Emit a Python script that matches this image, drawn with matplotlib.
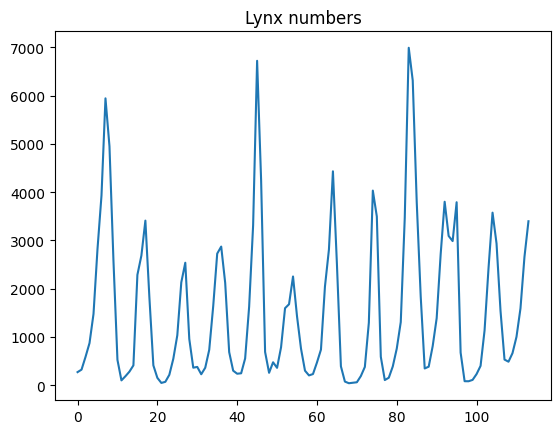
import matplotlib
matplotlib.use('Agg')
import matplotlib.pyplot as plt

# annual lynx trappings 1821-1934
lynx = [269, 321, 585, 871, 1475, 2821, 3928, 5943, 4950, 2577,
        523, 98, 184, 279, 409, 2285, 2685, 3409, 1824, 409,
        151, 45, 68, 213, 546, 1033, 2129, 2536, 957, 361,
        377, 225, 360, 731, 1638, 2725, 2871, 2119, 684, 299,
        236, 245, 552, 1623, 3311, 6721, 4254, 687, 255, 473,
        358, 784, 1594, 1676, 2251, 1426, 756, 299, 201, 229,
        469, 736, 2042, 2811, 4431, 2511, 389, 73, 39, 49,
        59, 188, 377, 1292, 4031, 3495, 587, 105, 153, 387,
        758, 1307, 3465, 6991, 6313, 3794, 1836, 345, 382, 808,
        1388, 2713, 3800, 3091, 2985, 3790, 674, 81, 80, 108,
        229, 399, 1132, 2432, 3574, 2935, 1537, 529, 485, 662,
        1000, 1590, 2657, 3396]

fig = plt.figure(figsize=(5.6, 4.35), dpi=100)
ax = fig.add_axes([55/560, 34/435, 496/560, 369/435])
ax.plot(range(len(lynx)), lynx)
ax.set_title('Lynx numbers')
fig.savefig('out.png')
